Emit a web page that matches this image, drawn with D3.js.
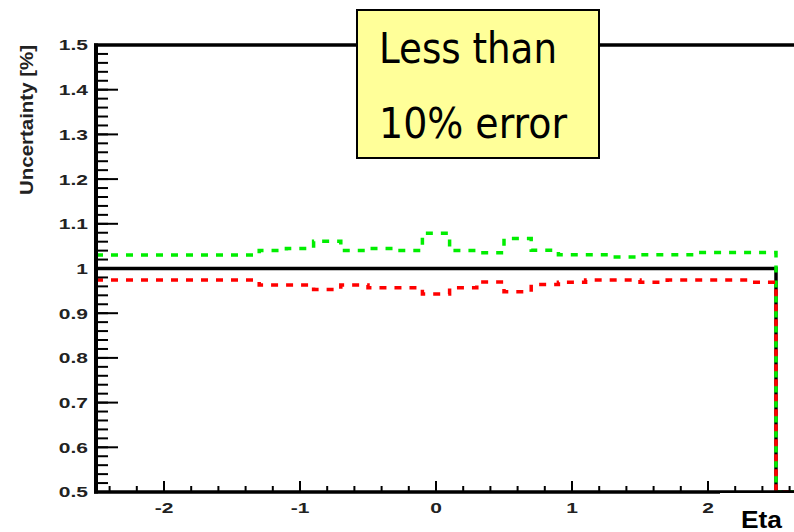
<!DOCTYPE html>
<html>
<head>
<meta charset="utf-8">
<script src="https://cdn.jsdelivr.net/npm/d3@7"></script>
<style>
  body { margin: 0; background: #fff; }
  svg { display: block; }
</style>
</head>
<body>
<div id="chart"></div>
<script>
// bin edges in eta (0.2 wide bins), last bin is empty
const etaEdges = [-2.5, -2.3, -2.1, -1.9, -1.7, -1.5, -1.3, -1.1, -0.9, -0.7, -0.5, -0.3, -0.1,
                  0.1, 0.3, 0.5, 0.7, 0.9, 1.1, 1.3, 1.5, 1.7, 1.9, 2.1, 2.3, 2.5, 2.7];

const nominal = [1, 1, 1, 1, 1, 1, 1, 1, 1, 1, 1, 1, 1,
                 1, 1, 1, 1, 1, 1, 1, 1, 1, 1, 1, 1, 0];
const upVals = [1.030, 1.030, 1.030, 1.030, 1.030, 1.030, 1.040, 1.045, 1.061, 1.040, 1.045, 1.040, 1.079,
                1.040, 1.035, 1.067, 1.041, 1.031, 1.031, 1.026, 1.031, 1.031, 1.036, 1.036, 1.036, 0];
const downVals = [0.974, 0.974, 0.974, 0.974, 0.974, 0.974, 0.963, 0.963, 0.953, 0.963, 0.957, 0.957, 0.943,
                  0.957, 0.970, 0.948, 0.964, 0.969, 0.974, 0.974, 0.969, 0.974, 0.974, 0.974, 0.969, 0];

const xTicks = [-2, -1, 0, 1, 2];
const yTicks = [0.5, 0.6, 0.7, 0.8, 0.9, 1, 1.1, 1.2, 1.3, 1.4, 1.5];

const W = 794, H = 532;
const plotLeft = 96, plotTop = 45, plotBottom = 492;

const svg = d3.select('#chart').append('svg')
    .attr('width', W)
    .attr('height', H);

const x = d3.scaleLinear().domain([-2.5, 2.7]).range([plotLeft, plotLeft + 5.2 * 136]);
const y = d3.scaleLinear().domain([0.5, 1.5]).range([plotBottom, plotTop]).clamp(true);

// histograms as step lines
function histPoints(vals) {
    var pts = vals.map((v, i) => [etaEdges[i], v]);
    pts.push([etaEdges[etaEdges.length - 1], vals[vals.length - 1]]);
    return pts;
}
const stepLine = d3.line()
    .curve(d3.curveStepAfter)
    .x(d => x(d[0]))
    .y(d => y(d[1]));

svg.append('path')
    .datum(histPoints(nominal))
    .attr('fill', 'none')
    .attr('stroke', '#000')
    .attr('stroke-width', 3.5)
    .attr('d', stepLine);

svg.append('path')
    .datum(histPoints(upVals))
    .attr('fill', 'none')
    .attr('stroke', '#00ee00')
    .attr('stroke-width', 3.5)
    .attr('stroke-dasharray', '7,8')
    .attr('d', stepLine);

svg.append('path')
    .datum(histPoints(downVals))
    .attr('fill', 'none')
    .attr('stroke', '#ff0000')
    .attr('stroke-width', 3.5)
    .attr('stroke-dasharray', '7,8')
    .attr('d', stepLine);

// minor ticks
const yMinor = d3.range(0, 51).map(i => 0.5 + i * 0.02);
const xMinor = d3.range(0, 27).map(i => -2.4 + i * 0.2);

svg.append('g').selectAll('line')
    .data(yMinor)
    .enter().append('line')
    .attr('x1', plotLeft).attr('x2', plotLeft + 12)
    .attr('y1', d => y(d)).attr('y2', d => y(d))
    .attr('stroke', '#000').attr('stroke-width', 2);

svg.append('g').selectAll('line')
    .data(yTicks)
    .enter().append('line')
    .attr('x1', plotLeft).attr('x2', plotLeft + 22)
    .attr('y1', d => y(d)).attr('y2', d => y(d))
    .attr('stroke', '#000').attr('stroke-width', 2);

svg.append('g').selectAll('line')
    .data(xMinor)
    .enter().append('line')
    .attr('x1', d => x(d)).attr('x2', d => x(d))
    .attr('y1', plotBottom).attr('y2', plotBottom - 6)
    .attr('stroke', '#000').attr('stroke-width', 2);

svg.append('g').selectAll('line')
    .data(xTicks)
    .enter().append('line')
    .attr('x1', d => x(d)).attr('x2', d => x(d))
    .attr('y1', plotBottom).attr('y2', plotBottom - 11)
    .attr('stroke', '#000').attr('stroke-width', 2);

// frame
svg.append('line').attr('x1', plotLeft).attr('x2', plotLeft).attr('y1', plotTop - 1.5).attr('y2', plotBottom + 1.5)
    .attr('stroke', '#000').attr('stroke-width', 4);
svg.append('line').attr('x1', plotLeft - 2).attr('x2', W).attr('y1', plotBottom).attr('y2', plotBottom)
    .attr('stroke', '#000').attr('stroke-width', 3.5);
svg.append('line').attr('x1', plotLeft - 2).attr('x2', W).attr('y1', plotTop).attr('y2', plotTop)
    .attr('stroke', '#000').attr('stroke-width', 3.5);

// tick labels (the picture is stretched sideways, so widen the glyphs)
svg.append('g').selectAll('text')
    .data(yTicks)
    .enter().append('text')
    .attr('transform', d => `translate(88,${y(d)}) scale(1.4,1)`)
    .attr('dy', '0.36em')
    .attr('text-anchor', 'end')
    .style('font-family', '"Liberation Sans", Arial, sans-serif')
    .style('font-weight', 'bold')
    .style('font-size', '15px')
    .attr('fill', '#222')
    .text(d => d3.format('~g')(d));

svg.append('g').selectAll('text')
    .data(xTicks)
    .enter().append('text')
    .attr('transform', d => `translate(${x(d)},513) scale(1.5,1)`)
    .attr('text-anchor', 'middle')
    .style('font-family', '"Liberation Sans", Arial, sans-serif')
    .style('font-weight', 'bold')
    .style('font-size', '14px')
    .attr('fill', '#222')
    .text(d => d);

// axis titles
svg.append('rect').attr('x', 720).attr('y', plotBottom + 1).attr('width', 80).attr('height', 40).attr('fill', '#fff');
svg.append('text')
    .attr('x', 741).attr('y', 528)
    .attr('textLength', 41)
    .attr('lengthAdjust', 'spacingAndGlyphs')
    .style('font-family', '"Liberation Sans", Arial, sans-serif')
    .style('font-weight', 'bold')
    .style('font-size', '24px')
    .text('Eta');

svg.append('text')
    .attr('transform', 'translate(33,120) rotate(-90)')
    .attr('text-anchor', 'middle')
    .attr('textLength', 150)
    .attr('lengthAdjust', 'spacingAndGlyphs')
    .style('font-family', '"Liberation Sans", Arial, sans-serif')
    .style('font-weight', 'bold')
    .style('font-size', '19px')
    .attr('fill', '#222')
    .text('Uncertainty [%]');

// annotation box
svg.append('rect')
    .attr('x', 357).attr('y', 10)
    .attr('width', 242).attr('height', 148)
    .attr('fill', '#ffff99')
    .attr('stroke', '#000')
    .attr('stroke-width', 2);

const boxLines = ['Less than', '10% error'];
const boxWidths = [178, 188];
svg.append('g').selectAll('text')
    .data(boxLines)
    .enter().append('text')
    .attr('x', 379)
    .attr('y', (d, i) => 63 + i * 75)
    .attr('textLength', (d, i) => boxWidths[i])
    .attr('lengthAdjust', 'spacingAndGlyphs')
    .style('font-family', 'Tahoma, "DejaVu Sans Condensed", "DejaVu Sans", sans-serif')
    .style('font-size', '43px')
    .text(d => d);
</script>
</body>
</html>
